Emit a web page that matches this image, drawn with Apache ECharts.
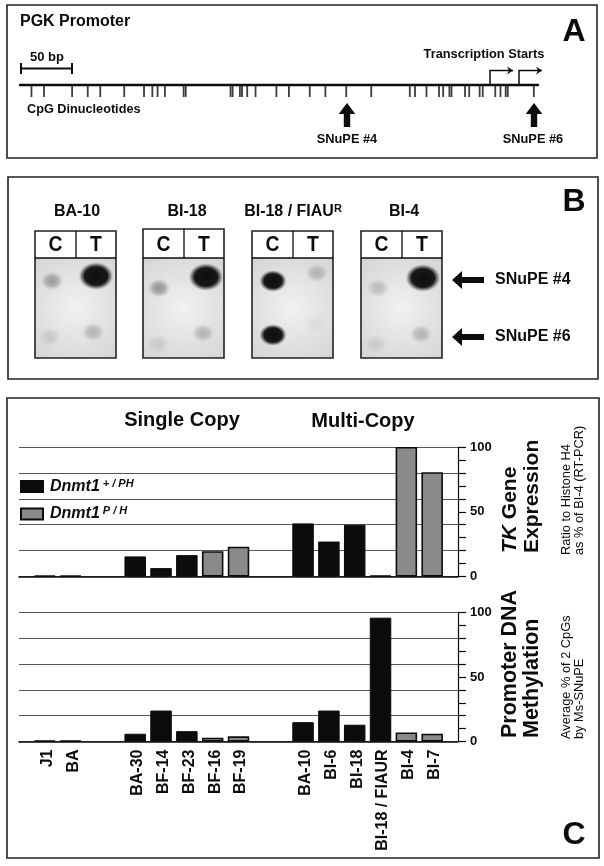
<!DOCTYPE html>
<html><head><meta charset="utf-8"><style>html,body{margin:0;padding:0;background:#fff}#c{width:604px;height:866px}</style>
<script src="https://cdn.jsdelivr.net/npm/echarts@6/dist/echarts.min.js"></script></head>
<body><div id="c"></div>
<script>
// ---------- data ----------
const samples = ['J1','BA','BA-30','BF-14','BF-23','BF-16','BF-19','BA-10','BI-6','BI-18','BI-18 / FIAUR','BI-4','BI-7'];
const groupStarts = ['BA-30','BA-10'];
const genotypeIsPH = [1,1,1,1,1,0,0,1,1,1,1,0,0];
const tkExpression = [0.7,0.7,15.5,6.5,16.5,19.5,23,41,27,40,0.8,100,80.5];
const methylation  = [0.8,0.8,6,24,8,3,4,15,24,13,96,7,6];
const cpgSites = [11,23,50,65,77,100,119,127,132,139,157,159,202,204,211,213,218,226,246,258,278,293,313,337,374,379,390,402,406,412,414,427,431,441,444,456,461,466,468,493];
const promoterLength = 497;
const blotNames = ['BA-10','BI-18','BI-18 / FIAU{s|R}','BI-4'];
const spotC4 = [0.5,0.55,1,0.28];
const spotT4 = [1,1,0.32,1];
const spotC6 = [0.17,0.14,1,0.14];
const spotT6 = [0.34,0.34,0.06,0.34];
const seriesNames = ['Dnmt1 +/PH','Dnmt1 P/H'];

// ---------- build ----------
const FONT = '"Liberation Sans", Arial, sans-serif';
const INK = '#0c0c0c';
const categories = ['',''];
const slotOf = {};
samples.forEach((s,i)=>{
  if (groupStarts.includes(s)) categories.push('','','');
  slotOf[i] = categories.length;
  categories.push(s,'');
});
categories.push('');
function column(values, flag){
  const a = categories.map(()=>null);
  samples.forEach((s,i)=>{ if (genotypeIsPH[i]===flag) a[slotOf[i]] = values[i]; });
  return a;
}
const black = {color:INK,borderColor:INK,borderWidth:1};
const gray = {color:'#8a8a8a',borderColor:INK,borderWidth:1.6};
function barSeries(idx, values){
  return [
    {name:seriesNames[0],type:'bar',xAxisIndex:idx,yAxisIndex:idx*2,stack:'s'+idx,barWidth:21.5,data:column(values,1),itemStyle:black,z:5,silent:true,animation:false},
    {name:seriesNames[1],type:'bar',xAxisIndex:idx,yAxisIndex:idx*2,stack:'s'+idx,barWidth:21.5,data:column(values,0),itemStyle:gray,z:5,silent:true,animation:false}
  ];
}
function yAxes(gridIndex){
  return [
    {type:'value',gridIndex,position:'right',min:0,max:100,interval:20,
      axisLine:{show:true,lineStyle:{color:INK,width:1.2}},axisTick:{show:false},axisLabel:{show:false},
      splitLine:{show:true,lineStyle:{color:'#444',width:0.9}}},
    {type:'value',gridIndex,position:'right',min:0,max:100,interval:10,
      axisLine:{show:false},axisTick:{show:true,length:8,lineStyle:{color:INK,width:1.2}},splitLine:{show:false},
      axisLabel:{show:true,margin:12,color:INK,fontFamily:FONT,fontWeight:'bold',fontSize:13,
        formatter:v=>(v%50===0?String(v):'')}}
  ];
}
function xAxis(gridIndex, showLabels){
  return {type:'category',gridIndex,data:categories,boundaryGap:false,
    axisLine:{show:true,onZero:false,lineStyle:{color:INK,width:1.6}},axisTick:{show:false},splitLine:{show:false},
    axisLabel:{show:showLabels,interval:0,rotate:90,margin:8,hideOverlap:false,
      formatter:v=>(v?'{a|'+v+'}':''),
      rich:{a:{color:INK,fontFamily:FONT,fontWeight:'bold',fontSize:16,padding:[5,0,0,0]}}}};
}

// ---------- decoration ----------
const g = [];
function box(x,y,w,h,lw){ g.push({type:'rect',shape:{x,y,width:w,height:h},style:{fill:'none',stroke:'#222',lineWidth:lw||1.6},z:20}); }
function text(t,x,y,size,o){ o=o||{};
  g.push({type:'text',x,y,rotation:o.rot||0,scaleX:o.sx||1,z:30,style:{text:t,fill:o.fill||INK,textAlign:o.align||'left',textVerticalAlign:'middle',
    font:(o.weight||'bold')+' '+size+'px '+FONT,rich:o.rich}}); }
function seg(x1,y1,x2,y2,lw){ g.push({type:'line',shape:{x1,y1,x2,y2},style:{stroke:INK,lineWidth:lw||1.5},z:20}); }
function poly(points,fill){ g.push({type:'polygon',shape:{points},style:{fill:fill||INK},z:22}); }

box(7,5,590,153); box(8,177,590,202); box(7,398,592,460);
text('PGK Promoter',20,22,16);
text('A',574,32,32,{align:'center'});
text('B',574,202,32,{align:'center'});
text('C',574,835,32,{align:'center'});

// panel A annotations
text('50 bp',47,57,13,{align:'center'});
seg(21,68.5,72,68.5,2); seg(21,63,21,74,2); seg(72,63,72,74,2);
text('Transcription Starts',484,54,12.8,{align:'center'});
[[490,513],[519,542]].forEach(([a,b])=>{
  g.push({type:'polyline',shape:{points:[[a,85],[a,70.5],[b,70.5]]},style:{fill:'none',stroke:INK,lineWidth:1.5},z:20});
  poly([[b-6,66.5],[b,70.5],[b-6,74.5],[b-4,70.5]]);
});
text('CpG Dinucleotides',27,109,12.7);
function upArrow(x){ poly([[x,103],[x+8.3,114],[x+3.2,114],[x+3.2,127],[x-3.2,127],[x-3.2,114],[x-8.3,114]]); }
upArrow(347); upArrow(534);
text('SNuPE #4',347,139,12.8,{align:'center'});
text('SNuPE #6',533,139,12.8,{align:'center'});

// panel B blots
const blotX = [35,143,252,361];
const blotTop = [231,229,231,231];
const blotW = 81;
const titleX = [77,187,293,404];
const superRich = {s:{font:'bold 11px '+FONT,fill:INK,verticalAlign:'top',padding:[0,0,6,0]}};
function spot(cx,cy,level,dark_r){
  const dark = level>=0.9;
  const r = dark?dark_r:9.5, sx = dark?1.25:1.2;
  const stops = dark
    ? [{offset:0,color:'rgba(14,14,14,1)'},{offset:0.66,color:'rgba(18,18,18,0.97)'},{offset:0.84,color:'rgba(70,70,70,0.55)'},{offset:1,color:'rgba(150,150,150,0)'}]
    : [{offset:0,color:`rgba(80,80,80,${level})`},{offset:0.55,color:`rgba(90,90,90,${level*0.72})`},{offset:1,color:'rgba(140,140,140,0)'}];
  g.push({type:'circle',x:cx,y:cy,scaleX:sx,shape:{cx:0,cy:0,r},style:{fill:{type:'radial',x:0.5,y:0.5,r:0.5,colorStops:stops}},z:12});
}
const cOff4 = [[17,50],[16,57],[21,50],[17,57]];
const tOff4 = [[61,45],[63,46],[65,42],[62,47]];
const cOff6 = [[15,106],[15,113],[21,104],[15,113]];
const tOff6 = [[58,101],[60,102],[63,93],[60,103]];
blotNames.forEach((name,i)=>{
  const x = blotX[i], top = blotTop[i], bot = 358, head = 258;
  text(name,titleX[i],212,16,{align:'center',rich:superRich});
  g.push({type:'rect',shape:{x,y:head,width:blotW,height:bot-head},z:10,style:{fill:{type:'radial',x:0.5,y:0.5,r:0.75,colorStops:[{offset:0,color:'#f1f1f1'},{offset:1,color:'#d6d6d6'}]}}});
  g.push({type:'rect',shape:{x,y:top,width:blotW,height:head-top},style:{fill:'#fff'},z:10});
  spot(x+cOff4[i][0],231+cOff4[i][1],spotC4[i],11);
  spot(x+tOff4[i][0],231+tOff4[i][1],spotT4[i],14);
  spot(x+cOff6[i][0],231+cOff6[i][1],spotC6[i],11);
  spot(x+tOff6[i][0],231+tOff6[i][1],spotT6[i],11);
  box(x,top,blotW,bot-top);
  seg(x,head,x+blotW,head,1.3);
  seg(x+41,top,x+41,head,1.3);
  text('C',x+20.5,245,22,{align:'center',sx:0.88});
  text('T',x+61,245,22,{align:'center',sx:0.88});
});
function leftArrow(y){ poly([[452,y],[462,y-9],[462,y-3],[484,y-3],[484,y+3],[462,y+3],[462,y+9]]); }
leftArrow(280); leftArrow(337);
text('SNuPE #4',495,280,16);
text('SNuPE #6',495,337,16);

// panel C annotations
text('Single Copy',182,420,20,{align:'center'});
text('Multi-Copy',363,421,20,{align:'center'});
const up = Math.PI/2;
const tkRich = {i:{font:'italic bold 21px '+FONT,fill:INK}};
text('{i|TK} Gene',510,553,21,{rot:up,rich:tkRich});
text('Expression',532,553,21,{rot:up});
text('Ratio to Histone H4',566,555,12.8,{rot:up,weight:'normal'});
text('as % of BI-4 (RT-PCR)',579,555,12.8,{rot:up,weight:'normal'});
text('Promoter DNA',510,738,21.5,{rot:up});
text('Methylation',532,738,21.5,{rot:up});
text('Average % of 2 CpGs',566,739,12.8,{rot:up,weight:'normal'});
text('by Ms-SNuPE',579,739,12.8,{rot:up,weight:'normal'});

// ---------- chart ----------
const option = {
  backgroundColor:'#fff',animation:false,
  grid:[
    {left:19,right:146,top:447,height:129.5},
    {left:19,right:146,top:612.5,height:129},
    {left:20,width:518,top:85,height:12}
  ],
  xAxis:[xAxis(0,false),xAxis(1,true),
    {type:'value',gridIndex:2,position:'top',min:0,max:promoterLength,
      axisLine:{show:true,onZero:false,lineStyle:{color:INK,width:2.4}},axisTick:{show:false},axisLabel:{show:false},splitLine:{show:false}}],
  yAxis:[...yAxes(0),...yAxes(1),{type:'value',gridIndex:2,min:0,max:1,show:false}],
  legend:{data:seriesNames,icon:'rect',orient:'vertical',left:20,top:478,itemWidth:22,itemHeight:11,itemGap:11,selectedMode:false,padding:0,
    formatter:n=>{const p=n.split(' ');return '{g|'+p[0]+'}{s|'+p[1].replace('/',' / ')+'}';},
    textStyle:{rich:{g:{fontFamily:FONT,fontWeight:'bold',fontStyle:'italic',fontSize:16,color:INK,lineHeight:17,padding:[0,0,0,2]},
      s:{fontFamily:FONT,fontWeight:'bold',fontStyle:'italic',fontSize:11,color:INK,verticalAlign:'top',padding:[0,0,6,3]}}}},
  series:[
    ...barSeries(0,tkExpression),
    ...barSeries(1,methylation),
    {type:'scatter',xAxisIndex:2,yAxisIndex:4,symbol:'rect',symbolSize:[1.8,12],silent:true,
      itemStyle:{color:INK},data:cpgSites.map(b=>[b,0.5])}
  ],
  graphic:{elements:g}
};
const chart = echarts.init(document.getElementById('c'),null,{renderer:'canvas',width:604,height:866});
chart.setOption(option);
</script></body></html>
